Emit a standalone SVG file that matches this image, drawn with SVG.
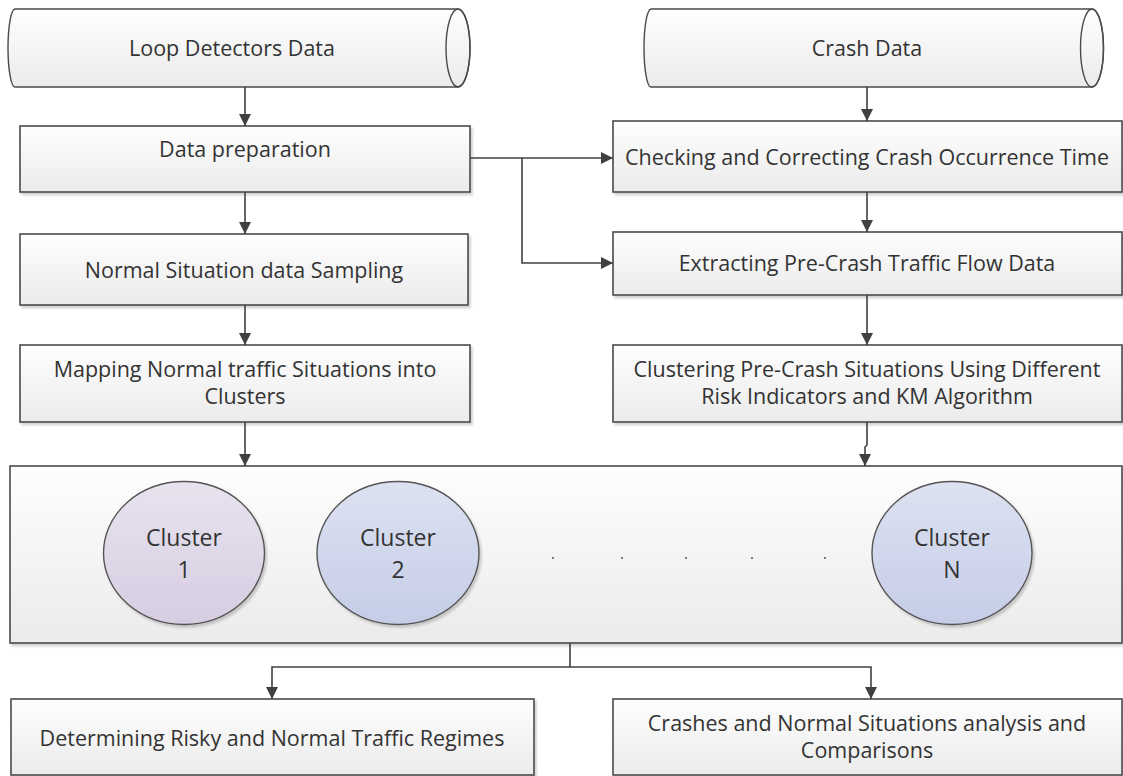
<svg xmlns="http://www.w3.org/2000/svg" width="1123" height="776" viewBox="0 0 1123 776">
<defs>
<linearGradient id="gBox" x1="0" y1="0" x2="0" y2="1"><stop offset="0" stop-color="#fefefe"/><stop offset="1" stop-color="#ebebeb"/></linearGradient>
<linearGradient id="gC1" x1="0" y1="0" x2="0" y2="1"><stop offset="0" stop-color="#e8e3ef"/><stop offset="1" stop-color="#d6cde1"/></linearGradient>
<linearGradient id="gC2" x1="0" y1="0" x2="0" y2="1"><stop offset="0" stop-color="#dde2f1"/><stop offset="1" stop-color="#c5cde7"/></linearGradient>
<filter id="sh" x="-5%" y="-5%" width="110%" height="120%"><feDropShadow dx="2" dy="2.5" stdDeviation="1.2" flood-color="#000" flood-opacity="0.18"/></filter>
<marker id="ah" viewBox="0 0 12 12" refX="12" refY="6" markerWidth="12" markerHeight="12" markerUnits="userSpaceOnUse" orient="auto"><path d="M0,0 L12,6 L0,12 Z" fill="#404040"/></marker>
</defs>
<style>
.box{fill:url(#gBox);stroke:#4a4a4a;stroke-width:1.6;filter:url(#sh)}
.cyl{fill:url(#gBox);stroke:#4a4a4a;stroke-width:1.4}
.cap{fill:none;stroke:#4a4a4a;stroke-width:1.4}
.cl1{fill:url(#gC1);stroke:#555;stroke-width:1.4;filter:url(#sh)}
.cl2{fill:url(#gC2);stroke:#555;stroke-width:1.4;filter:url(#sh)}
.t{font-family:"Open Sans","Liberation Sans",sans-serif;font-size:21.5px;fill:#333;text-anchor:middle}
.tc{font-family:"Open Sans","Liberation Sans",sans-serif;font-size:23px;fill:#333;text-anchor:middle}
.c{fill:none;stroke:#404040;stroke-width:1.6}
.a{marker-end:url(#ah)}
.dot{fill:#555}
</style>

<g id="loop">
<path class="cyl" d="M15,9 L458,9 A12,39 0 0 1 458,87 L15,87 A7,39 0 0 1 15,9 Z"/>
<ellipse class="cap" cx="458" cy="48" rx="12" ry="39"/>
<text class="t" x="232" y="56">Loop Detectors Data</text>
</g>
<g id="crash">
<path class="cyl" d="M651,9 L1092,9 A11.5,39 0 0 1 1092,87 L651,87 A7,39 0 0 1 651,9 Z"/>
<ellipse class="cap" cx="1092" cy="48" rx="11.5" ry="39"/>
<text class="t" x="867" y="56">Crash Data</text>
</g>

<g id="prep"><rect class="box" x="20" y="126" width="450" height="66"/><text class="t" x="245" y="157">Data preparation</text></g>
<g id="check"><rect class="box" x="613" y="121" width="509" height="71"/><text class="t" x="867" y="165">Checking and Correcting Crash Occurrence Time</text></g>
<g id="normal"><rect class="box" x="20" y="234" width="448" height="71"/><text class="t" x="244" y="278">Normal Situation data Sampling</text></g>
<g id="extract"><rect class="box" x="613" y="232" width="509" height="63"/><text class="t" x="867" y="271">Extracting Pre-Crash Traffic Flow Data</text></g>
<g id="mapping"><rect class="box" x="20" y="345" width="450" height="77"/><text class="t" x="245" y="377">Mapping Normal traffic Situations into</text><text class="t" x="245" y="404">Clusters</text></g>
<g id="clustering"><rect class="box" x="613" y="345" width="509" height="77"/><text class="t" x="867" y="377">Clustering Pre-Crash Situations Using Different</text><text class="t" x="867" y="404">Risk Indicators and KM Algorithm</text></g>

<g id="clusters">
<rect class="box" x="10" y="466" width="1112" height="177"/>
<g id="cluster1"><ellipse class="cl1" cx="184" cy="553" rx="80.5" ry="71.5"/><text class="tc" x="184" y="546">Cluster</text><text class="tc" x="184" y="578">1</text></g>
<g id="cluster2"><ellipse class="cl2" cx="398" cy="553" rx="81" ry="71.5"/><text class="tc" x="398" y="546">Cluster</text><text class="tc" x="398" y="578">2</text></g>
<g id="clusterN"><ellipse class="cl2" cx="952" cy="553" rx="80" ry="71.5"/><text class="tc" x="952" y="546">Cluster</text><text class="tc" x="952" y="578">N</text></g>
<circle class="dot" cx="553" cy="558" r="1"/><circle class="dot" cx="622" cy="558" r="1"/><circle class="dot" cx="686" cy="558" r="1"/><circle class="dot" cx="752" cy="558" r="1"/><circle class="dot" cx="825" cy="558" r="1"/>
</g>

<g id="regimes"><rect class="box" x="11" y="699" width="523" height="76"/><text class="t" x="272" y="746">Determining Risky and Normal Traffic Regimes</text></g>
<g id="analysis"><rect class="box" x="613" y="699" width="509" height="76"/><text class="t" x="867" y="731">Crashes and Normal Situations analysis and</text><text class="t" x="867" y="758">Comparisons</text></g>

<g id="connectors">
<line class="c a" x1="245" y1="87" x2="245" y2="126"/>
<line class="c a" x1="867" y1="87" x2="867" y2="121"/>
<polyline class="c a" points="470,158 522,158 613,158"/>
<polyline class="c a" points="522,158 522,263 613,263"/>
<line class="c a" x1="245" y1="192" x2="245" y2="234"/>
<line class="c a" x1="867" y1="192" x2="867" y2="232"/>
<line class="c a" x1="245" y1="305" x2="245" y2="345"/>
<line class="c a" x1="867" y1="295" x2="867" y2="345"/>
<line class="c a" x1="245" y1="422" x2="245" y2="466"/>
<polyline class="c a" points="867,422 867,445 865,447 865,466"/>
<line class="c" x1="570" y1="643" x2="570" y2="667"/>
<polyline class="c a" points="570,667 272,667 272,699"/>
<polyline class="c a" points="570,667 871,667 871,699"/>
</g>
</svg>
